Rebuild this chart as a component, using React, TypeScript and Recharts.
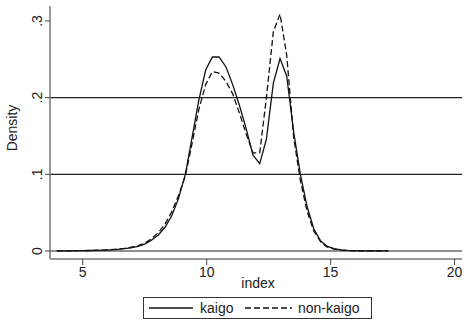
import { LineChart, Line, XAxis, YAxis, ReferenceLine } from "recharts";

// kernel density estimate, 50 points
const xs = [
  3.95, 4.22, 4.5, 4.77, 5.04, 5.32, 5.59, 5.86, 6.13, 6.41,
  6.68, 6.95, 7.23, 7.5, 7.77, 8.05, 8.32, 8.59, 8.86, 9.14,
  9.41, 9.68, 9.96, 10.23, 10.5, 10.78, 11.05, 11.32, 11.59, 11.87,
  12.14, 12.41, 12.69, 12.96, 13.23, 13.51, 13.78, 14.05, 14.32, 14.6,
  14.87, 15.14, 15.42, 15.69, 15.96, 16.24, 16.51, 16.78, 17.05, 17.33,
];

const kaigo = [
  0.0002, 0.0002, 0.0003, 0.0004, 0.0005, 0.0007, 0.0009, 0.0012, 0.0016, 0.0022,
  0.003, 0.004, 0.006, 0.009, 0.014, 0.021, 0.031, 0.046, 0.068, 0.1,
  0.148, 0.196, 0.236, 0.253, 0.253, 0.24, 0.217, 0.19, 0.16, 0.125,
  0.114, 0.146, 0.219, 0.251, 0.228, 0.155, 0.1, 0.058, 0.029, 0.013,
  0.006, 0.003, 0.0015, 0.0008, 0.0005, 0.0003, 0.0002, 0.0001, 0.0001, 0.0001,
];

const nonKaigo = [
  0.0002, 0.0002, 0.0003, 0.0004, 0.0005, 0.0007, 0.001, 0.0013, 0.0018, 0.0025,
  0.0035, 0.005, 0.007, 0.01, 0.016, 0.024, 0.035, 0.051, 0.072, 0.098,
  0.14, 0.184, 0.217, 0.234, 0.232, 0.221, 0.205, 0.18, 0.153, 0.128,
  0.128, 0.2, 0.286, 0.309, 0.255, 0.148, 0.092, 0.052, 0.026, 0.012,
  0.005, 0.0025, 0.0012, 0.0006, 0.0003, 0.0002, 0.0002, 0.0001, 0.0001, 0.0001,
];

const seriesNames = ["kaigo", "non-kaigo"];
const xTicks = [5, 10, 15, 20];
const yTicks = [0, 0.1, 0.2, 0.3];
const gridValues = [0, 0.1, 0.2];

const data = xs.map((x, i) => ({ x, kaigo: kaigo[i], nonKaigo: nonKaigo[i] }));

const FONT = "'Liberation Sans', Arial, sans-serif";
const DASH = "6 3";

const fmtY = (v: number) => (v === 0 ? "0" : String(v).replace(/^0/, ""));

const YTick = ({ x, y, payload }: any) => (
  <text
    transform={`translate(${x - 1},${y}) rotate(-90)`}
    textAnchor="middle"
    fontSize={14}
    fill="#222"
    fontFamily={FONT}
  >
    {fmtY(payload.value)}
  </text>
);

export default function App() {
  return (
    <div style={{ position: "absolute", left: 0, top: 0, width: 464, height: 321, fontFamily: FONT, background: "#fff" }}>
      <LineChart width={464} height={321} data={data} margin={{ top: 6, right: 2, left: 0, bottom: 0 }}>
        {gridValues.map((v) => (
          <ReferenceLine key={v} y={v} stroke="#222" strokeWidth={1.2} />
        ))}
        <XAxis
          dataKey="x"
          type="number"
          domain={[3.68, 20.3]}
          ticks={xTicks}
          allowDataOverflow
          height={62}
          stroke="#777"
          strokeWidth={1.5}
          tickSize={6}
          tickLine={{ stroke: "#444", strokeWidth: 1 }}
          tick={{ fontSize: 14, fill: "#222", fontFamily: FONT }}
          label={{
            content: () => (
              <text x={258} y={288} textAnchor="middle" fontSize={14} fill="#222" fontFamily={FONT}>
                index
              </text>
            ),
          }}
        />
        <YAxis
          type="number"
          domain={[-0.0104, 0.3195]}
          ticks={yTicks}
          allowDataOverflow
          width={50}
          stroke="#777"
          strokeWidth={1.5}
          tickSize={5}
          tickLine={{ stroke: "#444", strokeWidth: 1 }}
          tick={<YTick />}
          label={{
            content: () => (
              <text transform="translate(17,128) rotate(-90)" textAnchor="middle" fontSize={14} fill="#222" fontFamily={FONT}>
                Density
              </text>
            ),
          }}
        />
        <Line
          type="linear"
          dataKey="kaigo"
          name={seriesNames[0]}
          stroke="#111"
          strokeWidth={1.3}
          dot={false}
          isAnimationActive={false}
        />
        <Line
          type="linear"
          dataKey="nonKaigo"
          name={seriesNames[1]}
          stroke="#111"
          strokeWidth={1.3}
          strokeDasharray={DASH}
          dot={false}
          isAnimationActive={false}
        />
      </LineChart>
      {/* legend box below the plot */}
      <svg style={{ position: "absolute", left: 0, top: 0, pointerEvents: "none" }} width={464} height={321}>
        <rect x={143.5} y={297.5} width={228} height={21} fill="#fff" stroke="#333" strokeWidth={1} />
        <line x1={149} y1={308} x2={193} y2={308} stroke="#111" strokeWidth={1.3} />
        <text x={200} y={313} fontSize={14} fill="#222" fontFamily={FONT}>
          {seriesNames[0]}
        </text>
        <line x1={245} y1={308} x2={292} y2={308} stroke="#111" strokeWidth={1.3} strokeDasharray={DASH} />
        <text x={298} y={313} fontSize={14} fill="#222" fontFamily={FONT}>
          {seriesNames[1]}
        </text>
      </svg>
    </div>
  );
}
